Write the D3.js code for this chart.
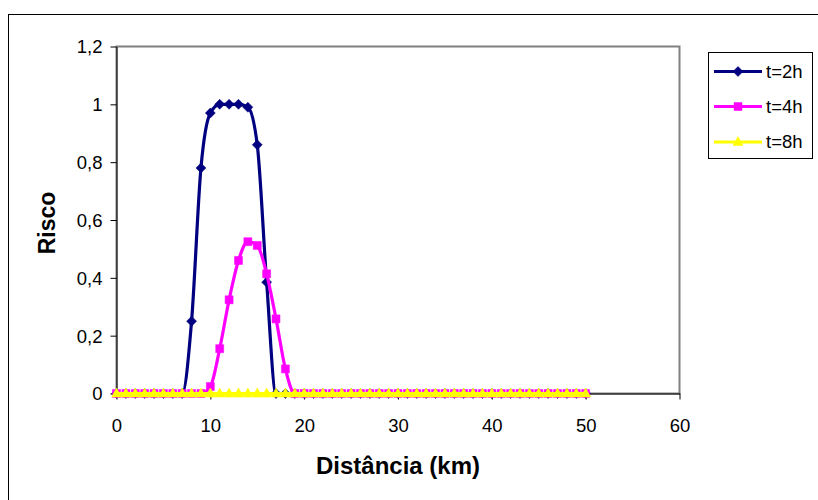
<!DOCTYPE html>
<html>
<head>
<meta charset="utf-8">
<script src="https://cdn.jsdelivr.net/npm/d3@7"></script>
<style>
  html, body { margin: 0; padding: 0; background: #fff; }
  svg text { font-family: "Liberation Sans", Arial, sans-serif; }
</style>
</head>
<body>
<svg id="chart" width="818" height="500"></svg>
<script>
// ---- data ----
const distance = [0,1,2,3,4,5,6,7,8,9,10,11,12,13,14,15,16,17,18,19,20,21,22,23,24,25,26,27,28,29,30,31,32,33,34,35,36,37,38,39,40,41,42,43,44,45,46,47,48,49,50];
const risk2h = [0,0,0,0,0,0,0,0,0.25,0.78,0.97,1.0,1.0,1.0,0.99,0.86,0.385,0,0,0,0,0,0,0,0,0,0,0,0,0,0,0,0,0,0,0,0,0,0,0,0,0,0,0,0,0,0,0,0,0,0];
const risk4h = [0,0,0,0,0,0,0,0,0,0,0.024,0.155,0.324,0.46,0.525,0.512,0.414,0.258,0.085,0,0,0,0,0,0,0,0,0,0,0,0,0,0,0,0,0,0,0,0,0,0,0,0,0,0,0,0,0,0,0,0];
const risk8h = [0,0,0,0,0,0,0,0,0,0,0,0,0,0,0,0,0,0,0,0,0,0,0,0,0,0,0,0,0,0,0,0,0,0,0,0,0,0,0,0,0,0,0,0,0,0,0,0,0,0,0];
const seriesNames = ["t=2h", "t=4h", "t=8h"];
const seriesColors = ["#000080", "#FF00FF", "#FFFF00"];
const seriesMarkers = ["diamond", "square", "triangle"];
const xTicks = [0,10,20,30,40,50,60];
const yTicks = [0,0.2,0.4,0.6,0.8,1,1.2];
const xTitle = "Distância (km)";
const yTitle = "Risco";

const seriesValues = [risk2h, risk4h, risk8h];

// ---- layout ----
const svg = d3.select("#chart");
const L = 116.5, R = 679.5, T = 46.5, B = 393.5;
const x = d3.scaleLinear().domain([0, 60]).range([L, R]);
const y = d3.scaleLinear().domain([0, 1.2]).range([B, T]);

// outer chart frame (cut off at right/bottom)
svg.append("rect").attr("x", 8.5).attr("y", 14.5).attr("width", 900).attr("height", 600)
  .attr("fill", "none").attr("stroke", "#000").attr("stroke-width", 1);

// plot area border
svg.append("rect").attr("x", L).attr("y", T).attr("width", R - L).attr("height", B - T)
  .attr("fill", "none").attr("stroke", "#808080").attr("stroke-width", 2);

const fmt = d => String(d).replace(".", ",");

// axes
const gx = svg.append("g").attr("transform", `translate(0,${B})`)
  .call(d3.axisBottom(x).tickValues(xTicks).tickSize(6).tickSizeOuter(0).tickFormat(d => d));
gx.select(".domain").attr("stroke", "#000");
gx.selectAll(".tick line").attr("stroke", "#000");
gx.selectAll(".tick text").attr("font-size", 18.5).attr("fill", "#000").attr("y", 0).attr("dy", 0)
  .attr("transform", "translate(0,38)");

const gy = svg.append("g").attr("transform", `translate(${L},0)`)
  .call(d3.axisLeft(y).tickValues(yTicks).tickSize(6).tickSizeOuter(0).tickFormat(fmt));
gy.select(".domain").attr("stroke", "#000");
gy.selectAll(".tick line").attr("stroke", "#000");
gy.selectAll(".tick text").attr("font-size", 18.5).attr("fill", "#000").attr("x", -14).attr("dy", "0.35em");

// titles
svg.append("text").attr("x", (L + R) / 2).attr("y", 474).attr("text-anchor", "middle")
  .attr("font-size", 24).attr("font-weight", "bold").text(xTitle);
svg.append("text").attr("transform", "translate(55,223) rotate(-90)").attr("text-anchor", "middle")
  .attr("font-size", 23).attr("font-weight", "bold").text(yTitle);

// markers
function markerPath(type) {
  if (type === "diamond") return "M0,-5L5,0L0,5L-5,0Z";
  if (type === "square") return "M-4,-4H4V4H-4Z";
  return "M0,-5.5L5,3.5L-5,3.5Z";
}

const line = d3.line().x((d, i) => x(distance[i])).y(d => y(d)).curve(d3.curveMonotoneX);

seriesValues.forEach((vals, si) => {
  const g = svg.append("g");
  g.append("path").attr("d", line(vals)).attr("fill", "none")
    .attr("stroke", seriesColors[si]).attr("stroke-width", 3.2).attr("stroke-linejoin", "round");
  g.selectAll("path.m").data(vals).enter().append("path").attr("class", "m")
    .attr("d", markerPath(seriesMarkers[si]))
    .attr("transform", (d, i) => `translate(${x(distance[i])},${y(d)})`)
    .attr("fill", seriesColors[si]).attr("stroke", seriesColors[si]).attr("stroke-width", 0.5);
});

// legend
const lg = svg.append("g");
lg.append("rect").attr("x", 708.5).attr("y", 52.5).attr("width", 104).attr("height", 106)
  .attr("fill", "#fff").attr("stroke", "#000").attr("stroke-width", 1);
const legY = [71.5, 106.5, 142];
seriesNames.forEach((name, si) => {
  lg.append("line").attr("x1", 714).attr("x2", 762).attr("y1", legY[si]).attr("y2", legY[si])
    .attr("stroke", seriesColors[si]).attr("stroke-width", 3.2);
  lg.append("path").attr("d", markerPath(seriesMarkers[si]))
    .attr("transform", `translate(738,${legY[si]})`)
    .attr("fill", seriesColors[si]).attr("stroke", seriesColors[si]).attr("stroke-width", 0.5);
  lg.append("text").attr("x", 766).attr("y", legY[si]).attr("dy", "0.35em")
    .attr("font-size", 18.5).attr("fill", "#000").text(name);
});
</script>
</body>
</html>
